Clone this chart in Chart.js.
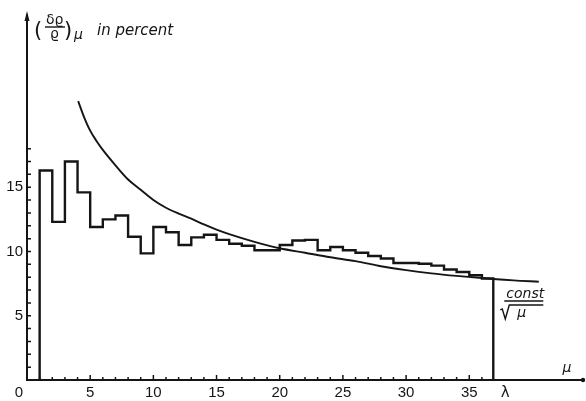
<!DOCTYPE html>
<html>
<head>
<meta charset="utf-8">
<script src="https://cdn.jsdelivr.net/npm/chart.js@4.4.0/dist/chart.umd.min.js"></script>
<style>
  html, body { margin: 0; padding: 0; background: #fff; }
</style>
</head>
<body>
<canvas id="myChart" width="586" height="401"></canvas>
<script>
// Histogram : bin edges in mu, height of each bin in percent
const binEdges = [1, 2, 3, 4, 5, 6, 7, 8, 9, 10, 11, 12, 13, 14, 15, 16, 17, 18, 19, 20,
                  21, 22, 23, 24, 25, 26, 27, 28, 29, 30, 31, 32, 33, 34, 35, 36, 36.9];
const binValue = [16.3, 12.3, 17.0, 14.6, 11.9, 12.5, 12.8, 11.15, 9.85, 11.9,
                  11.5, 10.5, 11.1, 11.3, 10.9, 10.6, 10.45, 10.1, 10.1, 10.5,
                  10.85, 10.9, 10.1, 10.35, 10.1, 9.9, 9.65, 9.45, 9.1, 9.1,
                  9.05, 8.9, 8.6, 8.4, 8.15, 7.9];
const lambda = 36.9;

// const / sqrt(mu) curve
const curveMu  = [4.05, 4.5, 5, 5.5, 6, 7, 8, 9, 10, 11, 12, 13, 14, 15, 16, 18, 20,
                  22, 24, 26, 28, 30, 32, 34, 36.9, 38.5, 40.5];
const curveVal = [21.7, 20.5, 19.4, 18.6, 17.9, 16.7, 15.6, 14.8, 14.0, 13.4, 12.95, 12.55,
                  12.1, 11.7, 11.35, 10.75, 10.25, 9.9, 9.55, 9.25, 8.85, 8.55, 8.3, 8.1,
                  7.86, 7.75, 7.65];

// Axis labels
const xTickLabels = [5, 10, 15, 20, 25, 30, 35];
const yTickLabels = [5, 10, 15];

const ink = '#151515';
const narrow = "'Liberation Sans Narrow', 'Liberation Sans', sans-serif";
const greek = "'DejaVu Sans', sans-serif";


  //////////////////////////
 // POINTS DES COURBES   //
//////////////////////////

// contour of the histogram : two corners per bin
const histPoints = [{ x: binEdges[0], y: 0 }];
binValue.forEach((v, i) => {
  histPoints.push({ x: binEdges[i], y: v });
  histPoints.push({ x: binEdges[i + 1], y: v });
});
histPoints.push({ x: lambda, y: 0 });

const curvePoints = curveMu.map((m, i) => ({ x: m, y: curveVal[i] }));


  //////////////////////////
 // TICKS + TEXTES       //
//////////////////////////

const axisDecor = {
  id: 'axisDecor',
  afterDraw(chart) {
    const { ctx, scales: { x, y } } = chart;
    const x0 = x.getPixelForValue(0);
    const y0 = y.getPixelForValue(0);

    ctx.save();
    ctx.strokeStyle = ink;
    ctx.fillStyle = ink;
    ctx.lineWidth = 1.5;

    // small ticks pointing into the plot
    ctx.beginPath();
    for (let v = 1; v <= 18; v++) {
      const py = y.getPixelForValue(v);
      ctx.moveTo(x0, py);
      ctx.lineTo(x0 + 4, py);
    }
    for (let v = 1; v <= 36; v++) {
      const px = x.getPixelForValue(v);
      ctx.moveTo(px, y0);
      ctx.lineTo(px, y0 - (v % 5 === 0 ? 5 : 3));
    }
    ctx.stroke();

    // arrow on top of the y axis, dot at the end of the x axis
    const top = y.getPixelForValue(y.max);
    ctx.beginPath();
    ctx.moveTo(x0, top - 4);
    ctx.lineTo(x0 - 2.5, top + 6);
    ctx.lineTo(x0 + 2.5, top + 6);
    ctx.closePath();
    ctx.fill();
    ctx.beginPath();
    ctx.arc(x.getPixelForValue(x.max), y0, 2.2, 0, Math.PI * 2);
    ctx.fill();

    // origin, lambda and mu
    ctx.textBaseline = 'alphabetic';
    ctx.font = '15px ' + narrow;
    ctx.textAlign = 'center';
    ctx.fillText('0', x0 - 8, y0 + 17);
    ctx.font = '15px ' + greek;
    ctx.fillText('λ', x.getPixelForValue(lambda) + 12, y0 + 17);
    ctx.font = 'italic 14px ' + greek;
    ctx.fillText('μ', x.getPixelForValue(x.max) - 16, y0 - 8);

    // y axis title : (δϱ/ϱ)μ in percent
    ctx.textAlign = 'left';
    ctx.font = '21px ' + greek;
    ctx.fillText('(', 34, 37);
    ctx.fillText(')', 64, 37);
    ctx.font = '14px ' + greek;
    ctx.fillText('δϱ', 46, 24);
    ctx.fillText('ϱ', 50, 38);
    ctx.font = 'italic 14px ' + greek;
    ctx.fillText('μ', 74, 39);
    ctx.beginPath();
    ctx.lineWidth = 1.4;
    ctx.moveTo(45, 27);
    ctx.lineTo(65, 27);
    ctx.stroke();
    ctx.font = 'italic 15px ' + greek;
    ctx.fillText('in percent', 97, 35);

    // const / sqrt(mu) label
    const lx = x.getPixelForValue(lambda) + 13;
    const ly = y.getPixelForValue(7.86);
    ctx.font = 'italic 14px ' + greek;
    ctx.fillText('const', lx, ly + 19);
    ctx.beginPath();
    ctx.moveTo(lx - 2, ly + 22);
    ctx.lineTo(lx + 37, ly + 22);
    // radical sign
    ctx.moveTo(lx - 6, ly + 31);
    ctx.lineTo(lx - 4, ly + 30);
    ctx.lineTo(lx - 1, ly + 40);
    ctx.lineTo(lx + 3, ly + 26);
    ctx.lineTo(lx + 37, ly + 26);
    ctx.stroke();
    ctx.fillText('μ', lx + 11, ly + 38);
    ctx.restore();
  }
};


  //////////////////////////
 // GRAPHIQUE CHART.JS   //
//////////////////////////

const ctx = document.getElementById('myChart').getContext('2d');

new Chart(ctx, {
  type: 'line',
  data: {
    datasets: [
      {
        label: 'histogram',
        data: histPoints,
        borderColor: ink,
        borderWidth: 2.4,
        pointRadius: 0,
        tension: 0,
        fill: false
      },
      {
        label: 'const / sqrt(mu)',
        data: curvePoints,
        borderColor: ink,
        borderWidth: 1.9,
        pointRadius: 0,
        cubicInterpolationMode: 'monotone',
        fill: false
      }
    ]
  },
  options: {
    responsive: false,
    animation: false,
    devicePixelRatio: 1,
    layout: { padding: { top: 15, right: 3, left: 0, bottom: 0 } },
    plugins: {
      legend: { display: false },
      tooltip: { enabled: false }
    },
    scales: {
      x: {
        type: 'linear',
        min: 0,
        max: 44,
        afterFit: scale => { scale.height = 21; },
        afterBuildTicks: scale => { scale.ticks = xTickLabels.map(v => ({ value: v })); },
        grid: { display: false, drawTicks: false },
        border: { display: true, color: ink, width: 2 },
        ticks: {
          color: ink,
          padding: 4,
          maxRotation: 0,
          font: { family: narrow, size: 15 }
        }
      },
      y: {
        type: 'linear',
        min: 0,
        max: 28.4,
        afterFit: scale => { scale.width = 27; },
        afterBuildTicks: scale => { scale.ticks = yTickLabels.map(v => ({ value: v })); },
        grid: { display: false, drawTicks: false },
        border: { display: true, color: ink, width: 2 },
        ticks: {
          color: ink,
          padding: 4,
          font: { family: narrow, size: 15 }
        }
      }
    }
  },
  plugins: [axisDecor]
});
</script>
</body>
</html>
